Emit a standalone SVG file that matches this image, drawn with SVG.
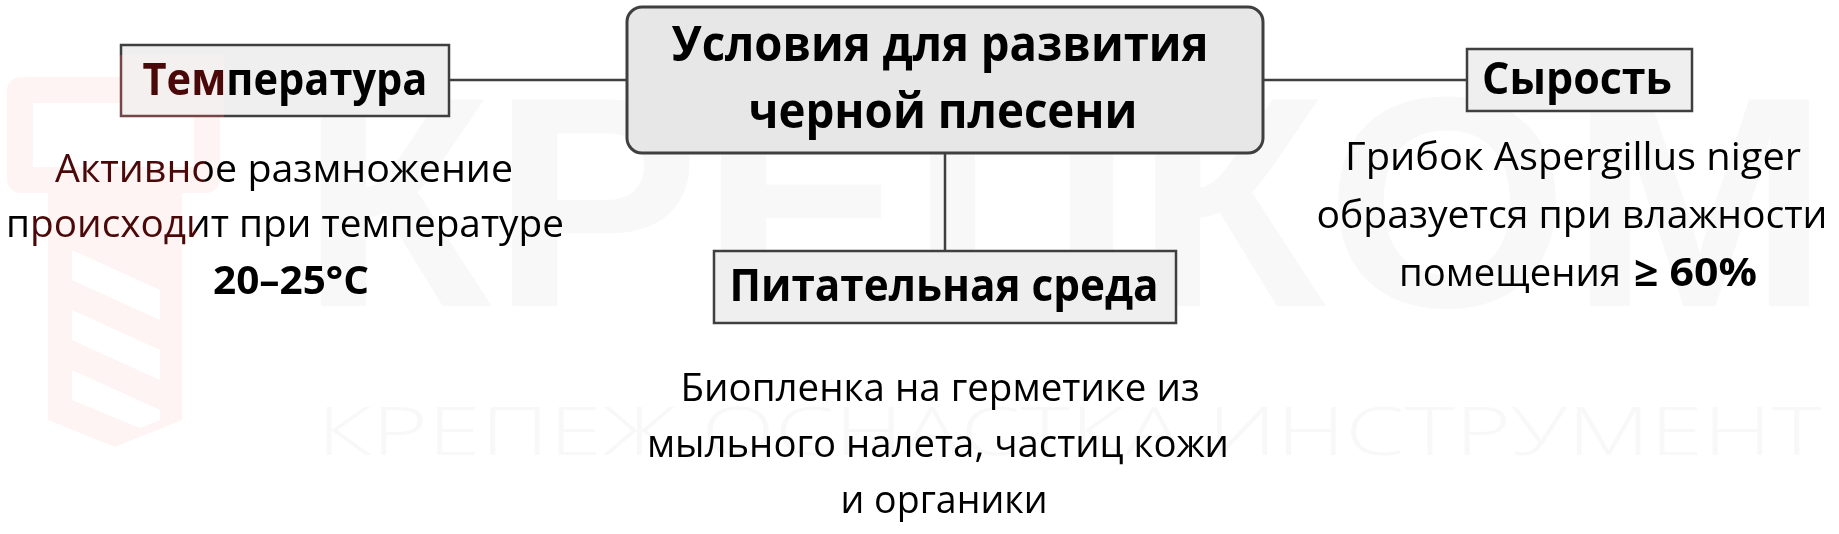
<svg xmlns="http://www.w3.org/2000/svg" width="1839" height="534" viewBox="0 0 1839 534">
<style>
  .box{fill:#efefef;stroke:#3f3f3f;stroke-width:2.5}
  .hub{fill:#e7e7e7;stroke:#3f3f3f;stroke-width:3}
  .conn{stroke:#3f3f3f;stroke-width:2.5;fill:none}
  .t{font-family:"Open Sans","Noto Sans","DejaVu Sans",sans-serif;fill:#000;text-anchor:middle}
  .ts{font-family:"Open Sans","Noto Sans","DejaVu Sans",sans-serif;fill:#000;text-anchor:start}
  .h{font-size:48px;font-weight:700}
  .n{font-size:45px;font-weight:700}
  .d{font-size:39px;font-weight:400}
  .db{font-size:40px;font-weight:700}
  .wm{fill:#f8f8f8}
  .logo{fill:#fef4f4}
</style>
<rect width="1839" height="534" fill="#ffffff"/>
<g id="watermark">
  <text class="wm" x="300" y="306" font-family="'Liberation Sans', Arial, sans-serif" font-size="300" font-weight="700" textLength="1530" lengthAdjust="spacingAndGlyphs">КРЕПКОМ</text>
  <text class="wm" x="317" y="455" font-family="'Open Sans', 'Noto Sans', sans-serif" font-size="66" font-weight="300" textLength="1505" lengthAdjust="spacingAndGlyphs">КРЕПЕЖ  ОСНАСТКА  ИНСТРУМЕНТ</text>
  <rect class="logo" x="7" y="77" width="213" height="116" rx="14"/>
  <rect x="33" y="103" width="161" height="64" fill="#ffffff"/>
  <path class="logo" d="M48 193 H182 V420 L115 447 L48 420 Z"/>
  <path d="M72 250 L160 290 V320 L72 280 Z M72 310 L160 350 V380 L72 340 Z M72 370 L160 410 V420 L140 428 L72 400 Z" fill="#ffffff"/>
</g>
<g id="connectors">
  <line class="conn" x1="449" y1="80" x2="627" y2="80"/>
  <line class="conn" x1="1263" y1="80" x2="1467" y2="80"/>
  <line class="conn" x1="945" y1="153" x2="945" y2="251"/>
</g>
<g id="hub">
  <rect class="hub" x="627" y="7" width="636" height="146" rx="15"/>
  <text class="t h" x="940" y="61" textLength="537" lengthAdjust="spacingAndGlyphs">Условия для развития</text>
  <text class="t h" x="943" y="128" textLength="389" lengthAdjust="spacingAndGlyphs">черной плесени</text>
</g>
<g id="temperature">
  <rect class="box" x="121" y="45" width="328" height="71"/>
  <text class="t n" x="285" y="95" textLength="285" lengthAdjust="spacingAndGlyphs">Температура</text>
</g>
<g id="temperature-text">
  <text class="t d" x="284" y="182" textLength="458" lengthAdjust="spacingAndGlyphs">Активное размножение</text>
  <text class="t d" x="285" y="237" textLength="558" lengthAdjust="spacingAndGlyphs">происходит при температуре</text>
  <text class="t db" x="291" y="294" textLength="156" lengthAdjust="spacingAndGlyphs">20–25°C</text>
</g>
<g id="humidity">
  <rect class="box" x="1467" y="49" width="225" height="62"/>
  <text class="t n" x="1577" y="94" textLength="190" lengthAdjust="spacingAndGlyphs">Сырость</text>
</g>
<g id="humidity-text">
  <text class="t d" x="1573" y="170" textLength="456" lengthAdjust="spacingAndGlyphs">Грибок Aspergillus niger</text>
  <text class="t d" x="1572" y="228" textLength="511" lengthAdjust="spacingAndGlyphs">образуется при влажности</text>
  <text class="ts d" x="1399" y="286" textLength="222" lengthAdjust="spacingAndGlyphs">помещения</text>
  <text class="ts db" x="1634" y="286" textLength="123" lengthAdjust="spacingAndGlyphs">≥ 60%</text>
</g>
<g id="medium">
  <rect class="box" x="714" y="251" width="462" height="72"/>
  <text class="t n" x="944" y="301" textLength="429" lengthAdjust="spacingAndGlyphs">Питательная среда</text>
</g>
<g id="medium-text">
  <text class="t d" x="940" y="401" textLength="519" lengthAdjust="spacingAndGlyphs">Биопленка на герметике из</text>
  <text class="t d" x="938" y="457" textLength="582" lengthAdjust="spacingAndGlyphs">мыльного налета, частиц кожи</text>
  <text class="t d" x="944" y="513" textLength="207" lengthAdjust="spacingAndGlyphs">и органики</text>
</g>
<g id="tint" style="mix-blend-mode:screen">
  <path d="M30 55 H224 V140 H205 V190 H196 V255 H30 Z" fill="#4a0808"/>
</g>
</svg>
